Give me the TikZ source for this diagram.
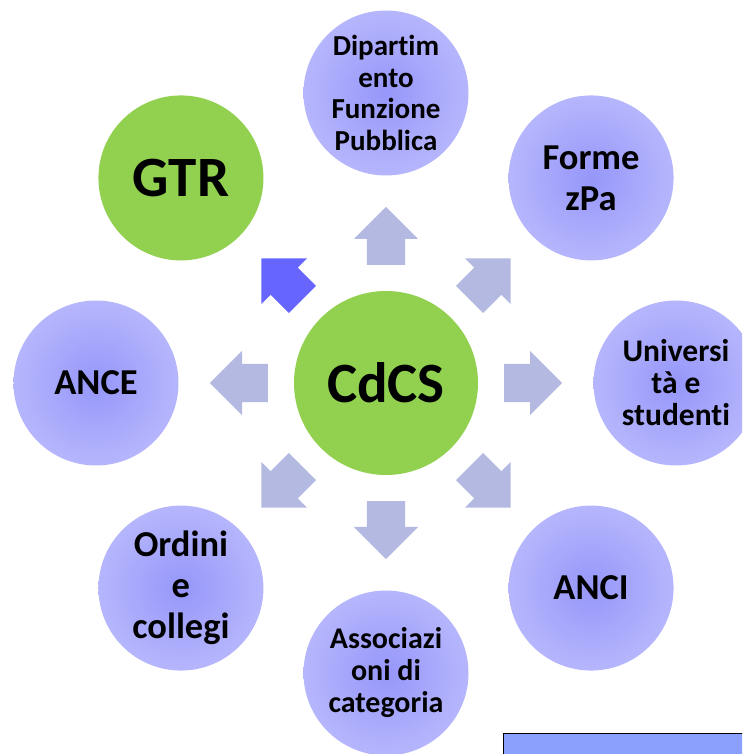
\documentclass[tikz,border=0pt]{standalone}
\usepackage{fontspec}
\setmainfont{Carlito}[Ligatures=NoCommon]
\usepackage{xcolor}
\definecolor{hubgreen}{RGB}{146,208,80}
\definecolor{bubbleinner}{RGB}{150,150,250}
\definecolor{bubbleouter}{RGB}{206,206,255}
\definecolor{spokegrey}{RGB}{179,185,224}
\definecolor{spokeblue}{RGB}{102,102,255}
\definecolor{notefill}{RGB}{138,160,252}
\usepackage{tikz}
\usetikzlibrary{shapes.arrows}
\newcommand{\radiushub}{92pt}
\newcommand{\radiusbubble}{82.5pt}
\newcommand{\distbubble}{290pt}
\newcommand{\distspoke}{118pt}
\pgfdeclareradialshading{bubble}{\pgfpoint{0bp}{0bp}}{color(0bp)=(bubbleinner); color(44bp)=(bubbleouter); color(50bp)=(bubbleouter)}
\tikzset{
    common/.style={circle, inner sep=0pt, align=center, font=\bfseries},
    hub/.style={common, fill=hubgreen, minimum size=2*\radiushub},
    bubble/.style={common, shading=bubble, minimum size=2*\radiusbubble},
    hubtext/.style={font=\fontsize{57}{60}\selectfont\bfseries},
    midtext/.style={font=\fontsize{36.5}{41}\selectfont\bfseries},
    smalltext/.style={font=\fontsize{30}{32}\selectfont\bfseries},
    spoke/.style={single arrow, draw=none, fill=spokegrey, anchor=tail,
        inner xsep=0pt, inner ysep=19pt, minimum height=58pt,
        single arrow head extend=13pt, single arrow tip angle=90},
}

\begin{document}
\begin{tikzpicture}
    \useasboundingbox (-386pt,-371pt) rectangle (356pt,383pt);
    \clip (-386pt,-371pt) rectangle (356pt,383pt);

    % hub
    \node[hub, hubtext] (cdcs) at (0,0) {CdCS};

    % ring of partners
    \node[hub, hubtext, minimum size=2*\radiusbubble] (gtr) at (135:\distbubble) {GTR};
    \node[bubble, smalltext, font=\fontsize{29}{31.5}\selectfont\bfseries] (dfp) at (90:\distbubble) {Dipartim\\ento\\Funzione\\Pubblica};
    \node[bubble, midtext] (formez) at (45:\distbubble) {Forme\\zPa};
    \node[bubble, smalltext, font=\fontsize{31.5}{32}\selectfont\bfseries] (uni) at (0:\distbubble) {Universi\\tà e\\studenti};
    \node[bubble, midtext] (anci) at (-45:\distbubble) {ANCI};
    \node[bubble, smalltext] (assoc) at (-90:\distbubble) {Associazi\\oni di\\categoria};
    \node[bubble, midtext] (ordini) at (-135:\distbubble) {Ordini\\e\\collegi};
    \node[bubble, midtext] (ance) at (180:\distbubble) {ANCE};

    % spokes
    \node[spoke, rotate=90] (to-dfp) at (90:\distspoke) {};
    \node[spoke, rotate=45] (to-formez) at (45:\distspoke) {};
    \node[spoke, rotate=0] (to-uni) at (0:\distspoke) {};
    \node[spoke, rotate=-45] (to-anci) at (-45:\distspoke) {};
    \node[spoke, rotate=-90] (to-assoc) at (-90:\distspoke) {};
    \node[spoke, rotate=-135] (to-ordini) at (-135:\distspoke) {};
    \node[spoke, rotate=180] (to-ance) at (180:\distspoke) {};
    \node[spoke, rotate=135, fill=spokeblue] (to-gtr) at (135:\distspoke) {};

    % note box, cut by the page edge
    \node[draw=black, line width=1.2pt, fill=notefill, anchor=north west,
        minimum width=260pt, minimum height=40pt] (note) at (117pt,-350pt) {};
\end{tikzpicture}
\end{document}
